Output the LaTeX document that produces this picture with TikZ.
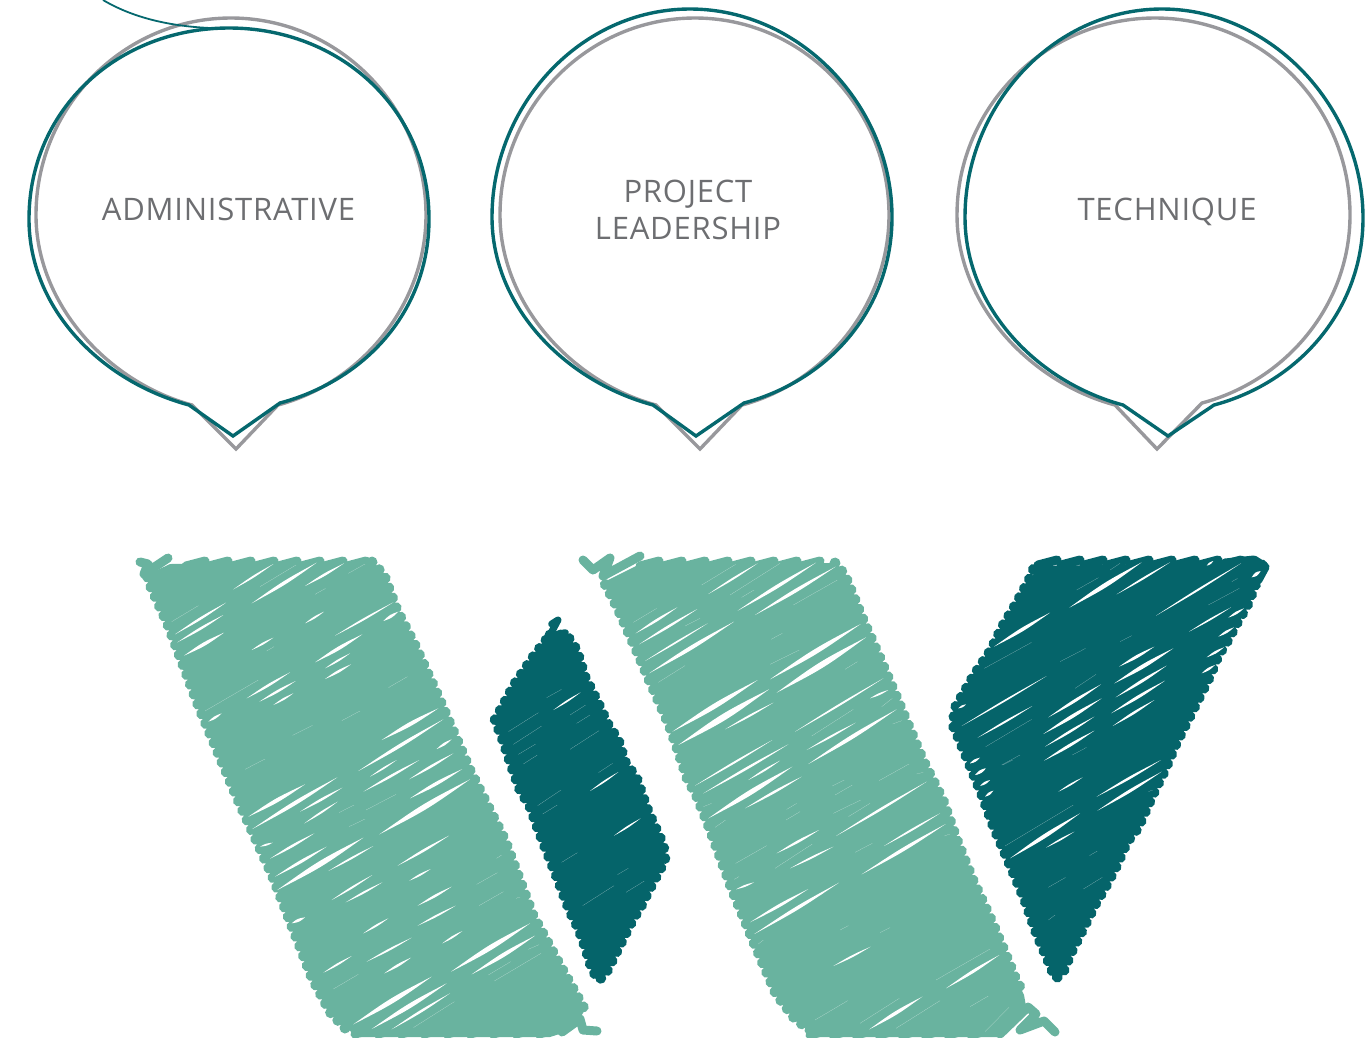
\documentclass[tikz,border=0pt]{standalone}
\usepackage{fontspec}
\setmainfont{Open Sans}[LetterSpace=2.5]
\definecolor{lineteal}{HTML}{05686E}
\definecolor{linegrey}{HTML}{98989C}
\definecolor{scgreen}{HTML}{69B39F}
\definecolor{scteal}{HTML}{05646A}
\definecolor{labelgrey}{HTML}{6D6E71}
\tikzset{
  bubbleline/.style={line width=3.4pt,line join=miter,miter limit=10},
  label/.style={text=labelgrey,font=\fontsize{31}{37.6}\selectfont,align=center,inner sep=0pt},
  scrubedge/.style={line width=11pt,line cap=round,dash pattern=on 0.01pt off 10.5pt},
  squiggle/.style={line width=9pt,line cap=round,line join=round},
}
\newcommand\bubbles[1]{%
  \foreach \lx/\ly/\tx/\ty/\rx/\ry/\sx/\sy/\px/\py/\qx/\qy/\col in {#1}{
    \pgfmathsetmacro\R{(\rx-\lx)/2}
    \pgfmathsetmacro\ka{.5523*(\rx-\lx)/2}
    \pgfmathsetmacro\hv{.4526*\R}
    \draw[bubbleline,draw=\col]
      (\qx,\qy) .. controls ({\qx-.435*\R},{\qy-.117*\R}) and (\lx,{\ly+\hv}) .. (\lx,\ly)
      .. controls (\lx,{\ly-\ka}) and ({\tx-\ka},\ty) .. (\tx,\ty)
      .. controls ({\tx+\ka},\ty) and (\rx,{\ry-\ka}) .. (\rx,\ry)
      .. controls (\rx,{\ry+\hv}) and ({\sx+.435*\R},{\sy-.117*\R}) .. (\sx,\sy)
      -- (\px,\py) -- cycle;
  }}
\newcommand\gaps[3]{%
  \begin{scope}[shift={(#1,#2)},x=0.33333pt,y=-0.33333pt]
  \foreach \a/\b/\c/\d/\w in {#3}{
    \pgfmathsetmacro\ma{(\a+\c)/2+.5*(\w+1)}
    \pgfmathsetmacro\mb{(\b+\d)/2+.85*(\w+1)}
    \pgfmathsetmacro\na{(\a+\c)/2-.5*(\w+1)}
    \pgfmathsetmacro\nb{(\b+\d)/2-.85*(\w+1)}
    \fill[white] (\a,\b) .. controls (\ma,\mb) .. (\c,\d) .. controls (\na,\nb) .. (\a,\b) -- cycle;
  }
  \end{scope}}
% slanted pen strokes along a horizontal edge: colour, first x, last x, y
\newcommand\stubs[4]{%
  \pgfmathtruncatemacro\stubnext{#2+23}
  \foreach \ux in {#2,\stubnext,...,#3}{
    \draw[#1,squiggle] (\ux,{#4+5}) -- ({\ux+19},#4);
  }}
\begin{document}
\begin{tikzpicture}[x=1pt,y=-1pt]
\useasboundingbox (0,0) rectangle (1372,1037);

% speech bubbles
\bubbles{
  36/215/231/18/426/215/278/405/236/449/192/405/linegrey,
  500/215/695/18/889/215/742/405/700/449/656/405/linegrey,
  957/215/1155/18/1350/215/1202/403/1157/449/1115/405/linegrey,
  29/219/229/28/429/219/280/403/233/436/189/405/lineteal,
  492/217/690/9/892/217/744/403/696/436/653/405/lineteal,
  965/217/1162/9/1363/218/1214/405/1168/436/1123/405/lineteal}
\coordinate (tailstart) at (103,0);
\coordinate (tailend) at (210,28);
\draw[lineteal,line width=1.8pt] (tailstart) .. controls (130,16) and (165,26) .. (tailend);

\node[label,anchor=base] (admin) at (228.5,220) {ADMINISTRATIVE};
\node[label] (project) at (688,210) {PROJECT\\LEADERSHIP};
\node[label,anchor=base] (technique) at (1167,220) {TECHNIQUE};

% left green band
\fill[scgreen] (170,564) -- (372,562) -- (384,575) -- (397,610) -- (415,645) -- (440,700) -- (470,770) -- (505,840) -- (533,915) -- (560,965) -- (585,1010) -- (572,1030) -- (550,1037) -- (360,1037) -- (345,1028) -- (330,1012) -- (312,978) -- (272,875) -- (238,800) -- (200,710) -- (168,625) -- (150,585) -- (147,575) -- cycle;
\draw[scgreen,scrubedge] (372,562) -- (384,575) -- (397,610) -- (415,645) -- (440,700) -- (470,770) -- (505,840) -- (533,915) -- (560,965) -- (585,1010);
\draw[scgreen,scrubedge] (345,1028) -- (330,1012) -- (312,978) -- (272,875) -- (238,800) -- (200,710) -- (168,625) -- (150,585) -- (147,575);
\stubs{scgreen}{186}{360}{561}
\stubs{scgreen}{355}{540}{1029}
\draw[scgreen,squiggle] (140,562) -- (148,564) -- (144,574) -- (168,558);
\draw[scgreen,squiggle] (562,1032) -- (580,1019) -- (583,1030) -- (597,1031);
\gaps{120}{540}{340/148/460/72/3, 420/140/528/75/2, 395/190/590/68/6, 555/138/672/70/4, 685/100/735/72/1.5, 585/163/617/145/1.5, 155/245/235/197/2, 165/283/318/188/4, 172/307/310/225/4, 192/347/312/278/6, 395/330/460/293/3, 440/333/462/320/1.5, 555/250/612/215/3, 645/287/820/187/3, 790/243/835/215/5, 585/367/727/283/6, 615/385/690/340/3, 615/417/693/373/4, 805/443/862/410/1.5, 255/513/415/420/2, 380/475/510/397/4, 418/485/527/423/4, 460/495/520/460/3, 265/545/305/520/4, 665/542/720/513/2, 518/586/578/556/2}
\gaps{120}{690}{785/150/955/55/7, 715/243/970/88/6, 950/177/995/148/4, 750/260/830/210/2.5, 730/305/898/210/4, 867/268/1000/190/4, 870/325/1027/237/6, 778/433/1050/268/10, 385/380/555/283/7, 397/417/652/262/7, 540/365/667/293/4, 553/400/653/335/3, 657/368/702/345/2, 738/360/828/313/2, 687/410/735/387/2, 450/506/583/430/4, 465/560/620/470/5, 472/600/730/443/10, 625/543/760/468/3, 420/470/458/458/3, 833/527/987/437/4, 868/572/932/537/3, 635/630/757/555/3, 677/637/787/577/3, 893/647/995/590/4, 893/707/1007/647/3, 515/700/555/682/5, 730/730/805/685/3, 967/760/1027/723/3, 740/815/875/743/3, 793/850/873/803/4, 610/848/695/798/3, 640/897/715/853/2, 700/1003/935/860/9, 755/1017/980/880/8, 815/1018/990/910/4, 880/1013/1003/935/2, 375/238/435/207/1.5}
\gaps{300}{840}{530/133/592/98/2, 537/197/610/155/2, 590/55/605/45/2, 648/175/660/171/2, 453/395/690/250/9, 515/403/705/287/7, 565/405/632/365/2, 583/423/723/340/2, 685/328/717/314/2}

% dark diamond
\begin{scope}[shift={(470,600)},x=0.33333pt,y=-0.33333pt]
\fill[scteal] (240,105) -- (290,105) -- (320,150) -- (345,230) -- (365,270) -- (385,310) -- (415,375) -- (445,420) -- (465,485) -- (500,535) -- (535,635) -- (580,735) -- (585,780) -- (540,865) -- (515,915) -- (485,965) -- (445,1045) -- (405,1125) -- (385,1140) -- (365,1105) -- (345,1040) -- (325,985) -- (300,935) -- (260,830) -- (205,690) -- (180,620) -- (150,570) -- (125,500) -- (95,410) -- (75,360) -- (105,305) -- (135,250) -- (190,170) -- cycle;
\draw[scteal,scrubedge] (240,105) -- (290,105) -- (320,150) -- (345,230) -- (365,270) -- (385,310) -- (415,375) -- (445,420) -- (465,485) -- (500,535) -- (535,635) -- (580,735) -- (585,780) -- (540,865) -- (515,915) -- (485,965) -- (445,1045) -- (405,1125) -- (385,1140) -- (365,1105) -- (345,1040) -- (325,985) -- (300,935) -- (260,830) -- (205,690) -- (180,620) -- (150,570) -- (125,500) -- (95,410) -- (75,360) -- (105,305) -- (135,250) -- (190,170) -- cycle;
\draw[scteal,squiggle,line width=7pt] (245,72) -- (264,60) -- (240,105);
\draw[scteal,squiggle,line width=7pt] (240,108) -- (286,98);
\end{scope}
\gaps{470}{600}{230/293/275/268/1.5, 250/330/332/277/2.5, 300/345/347/315/1.5, 320/370/360/345/1.5, 115/395/205/338/2, 130/433/215/378/2, 145/463/197/432/1.5, 160/492/202/465/1.5, 300/448/387/392/2, 385/518/428/490/1.5, 360/573/445/516/2.5, 203/617/273/570/2, 218/642/262/615/1.5, 432/707/512/655/2.5, 275/787/322/758/1.5, 338/917/432/857/2, 442/824/475/805/1.5, 468/877/523/843/1.5}

% middle green band
\fill[scgreen] (640,564) -- (835,563) -- (845,575) -- (862,617) -- (880,658) -- (900,705) -- (923,760) -- (943,800) -- (957,840) -- (973,880) -- (990,917) -- (1004,950) -- (1015,977) -- (1024,995) -- (1026,1006) -- (1015,1024) -- (1000,1037) -- (817,1037) -- (795,1019) -- (776,994) -- (754,943) -- (731,887) -- (709,827) -- (697,797) -- (687,778) -- (677,748) -- (669,725) -- (647,675) -- (634,645) -- (617,607) -- (604,582) -- cycle;
\draw[scgreen,scrubedge] (835,563) -- (845,575) -- (862,617) -- (880,658) -- (900,705) -- (923,760) -- (943,800) -- (957,840) -- (973,880) -- (990,917) -- (1004,950) -- (1015,977) -- (1024,995);
\draw[scgreen,scrubedge] (810,1030) -- (795,1019) -- (776,994) -- (754,943) -- (731,887) -- (709,827) -- (697,797) -- (687,778) -- (677,748) -- (669,725) -- (647,675) -- (634,645) -- (617,607) -- (604,582);
\stubs{scgreen}{640}{822}{561}
\stubs{scgreen}{810}{990}{1030}
\draw[scgreen,squiggle] (583,560) -- (593,570) -- (610,558) -- (603,576) -- (640,556);
\draw[scgreen,squiggle] (1000,1034) -- (1028,1007) -- (1036,1014) -- (1020,1030) -- (1044,1021) -- (1055,1032);
\gaps{570}{545}{395/120/497/58/2, 415/147/563/55/3, 480/150/630/55/2, 515/157/552/135/2, 503/197/738/53/6, 555/210/797/65/6, 670/180/802/105/2, 190/232/260/190/1.5, 197/265/322/187/4, 207/298/382/192/4, 345/243/390/220/1.5, 225/348/413/235/2.5, 237/385/492/230/7, 265/412/345/362/1.5, 603/283/637/265/1.5, 600/358/688/315/2, 600/403/872/237/9, 620/443/888/277/11, 825/373/862/350/1, 307/560/563/405/9, 325/600/597/433/12, 465/553/610/473/3, 675/560/940/400/3, 725/573/850/493/2, 900/460/955/435/3, 935/485/967/460/2, 710/615/857/533/3, 715/657/980/493/7, 968/537/995/527/1, 375/722/607/585/3, 400/745/655/598/4, 535/705/630/647/3}
\gaps{660}{760}{145/175/397/20/9, 255/145/425/50/4, 130/140/155/130/2, 165/202/197/180/1, 380/148/410/130/1.5, 378/180/420/155/2, 517/78/553/60/1.5, 525/105/577/75/2, 657/62/747/12/2, 770/42/790/37/2, 520/160/602/120/1.5, 565/170/630/130/1, 528/228/800/65/4, 585/277/637/250/1.5, 672/258/840/160/3, 605/343/857/192/6, 853/228/870/222/2, 350/280/477/210/4, 227/310/320/257/2, 345/325/457/252/1.5, 390/325/520/260/3, 228/388/282/367/3, 222/358/237/350/1, 270/487/445/387/5, 283/522/537/368/6, 295/552/310/540/1, 520/618/632/560/3, 540/510/565/497/1, 660/518/690/503/1, 828/660/990/567/2, 858/685/1018/585/5, 465/780/563/722/1, 600/790/718/715/1.5, 628/808/787/710/6, 708/805/840/722/2, 930/740/985/708/1.5, 975/815/1047/742/2}

% dark right shape
\fill[scteal] (1040,566) -- (1260,562) -- (1262,565) -- (1255,586) -- (1247,606) -- (1237,623) -- (1228,640) -- (1218,656) -- (1210,676) -- (1198,700) -- (1190,716) -- (1175,746) -- (1165,770) -- (1155,790) -- (1138,828) -- (1127,842) -- (1117,865) -- (1105,888) -- (1097,901) -- (1080,935) -- (1072,951) -- (1062,975) -- (1055,978) -- (1050,965) -- (1037,935) -- (1024,898) -- (1007,858) -- (994,828) -- (982,795) -- (971,768) -- (953,725) -- (955,708) -- (974,675) -- (991,650) -- (1002,627) -- (1016,604) -- (1029,580) -- cycle;
\draw[scteal,scrubedge] (1262,565) -- (1255,586) -- (1247,606) -- (1237,623) -- (1228,640) -- (1218,656) -- (1210,676) -- (1198,700) -- (1190,716) -- (1175,746) -- (1165,770) -- (1155,790) -- (1138,828) -- (1127,842) -- (1117,865) -- (1105,888) -- (1097,901) -- (1080,935) -- (1072,951) -- (1062,975) -- (1055,978) -- (1050,965) -- (1037,935) -- (1024,898) -- (1007,858) -- (994,828) -- (982,795) -- (971,768) -- (953,725) -- (955,708) -- (974,675) -- (991,650) -- (1002,627) -- (1016,604) -- (1029,580) -- (1036,563);
\stubs{scteal}{1038}{1225}{560}
\draw[scteal,squiggle] (1225,563) -- (1254,560) -- (1265,567) -- (1258,580);
\gaps{940}{545}{410/135/475/98/1.5, 510/75/540/55/2, 388/188/605/52/8, 530/148/690/52/3, 800/62/820/48/3, 935/97/962/78/6, 648/212/903/55/3, 875/110/893/100/1, 805/180/898/130/2, 865/218/912/190/4, 747/260/873/187/2.5, 835/275/882/247/4, 800/337/852/307/4, 785/385/825/360/4, 162/305/330/203/6, 133/370/275/292/1.5, 360/350/437/310/1.5, 540/290/575/272/1, 537/365/643/305/5, 523/415/700/310/7, 527/457/680/362/5, 513/505/675/407/5, 518/543/643/465/4, 405/430/468/388/2, 325/517/483/418/5, 310/567/485/460/6, 315/605/463/515/4, 312/647/463/557/5, 397/630/440/607/2, 65/543/320/393/2.5, 55/490/78/478/3, 113/578/277/483/3, 137/605/275/523/2, 185/660/240/630/1, 90/655/120/638/4, 105/690/135/670/4}
\gaps{960}{760}{48/45/78/25/4, 60/78/90/60/4, 75/110/100/92/4, 30/10/55/-3/3, 128/15/158/0/1, 295/95/368/52/2.5, 410/110/603/0/4, 412/152/605/35/5, 565/95/578/90/2, 135/258/340/135/1.5, 150/295/360/160/7, 258/263/343/215/2.5, 388/287/412/273/1, 265/382/317/352/1.5, 370/387/427/352/2, 265/480/285/465/1}
\end{tikzpicture}
\end{document}
